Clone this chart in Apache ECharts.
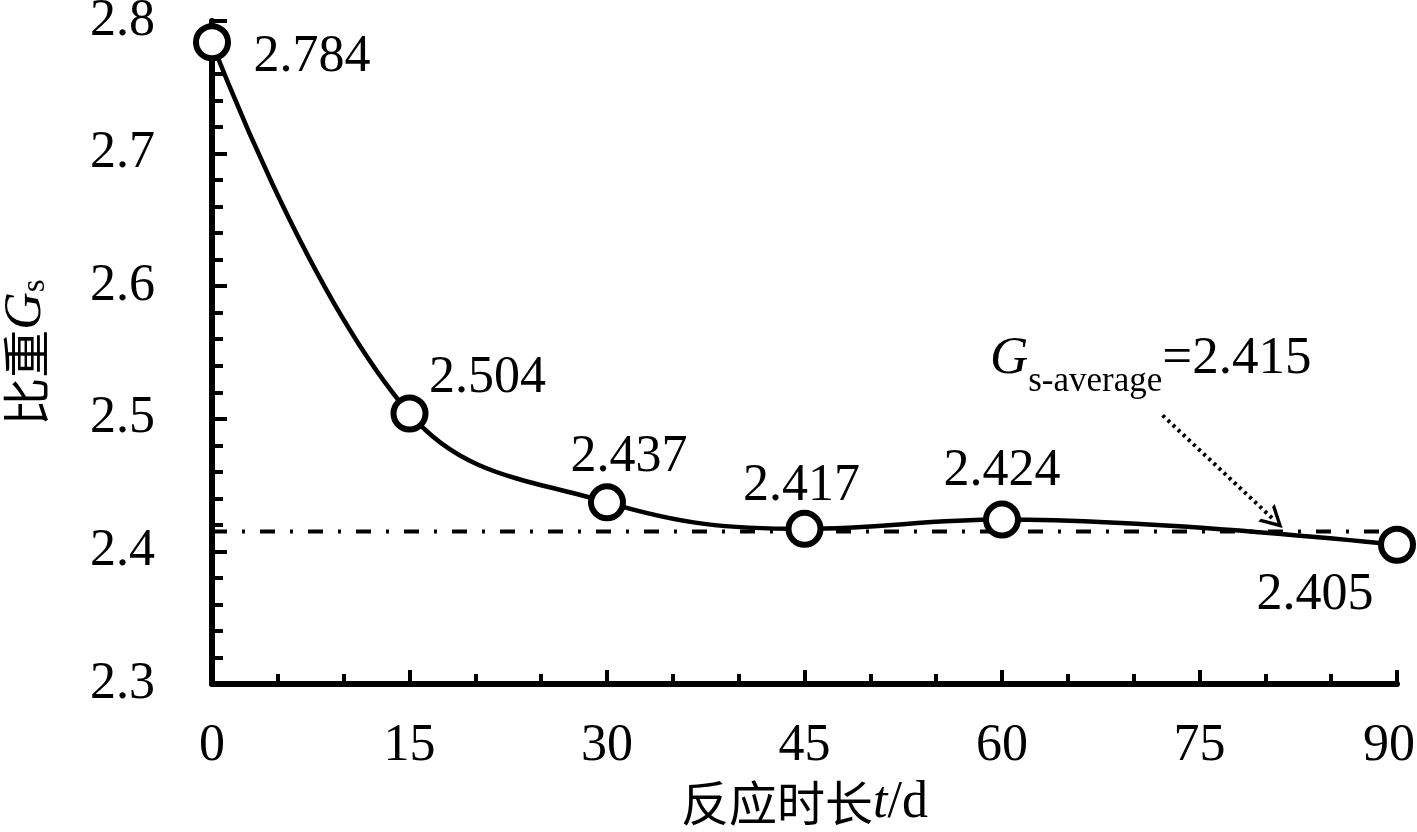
<!DOCTYPE html>
<html>
<head>
<meta charset="utf-8">
<script src="https://cdn.jsdelivr.net/npm/echarts@6/dist/echarts.min.js"></script>
<style>html,body{margin:0;padding:0;background:#fff;}#c{width:1417px;height:832px;}</style>
</head>
<body>
<div id="c"></div>
<script>
// ---- data ----
const days = [0, 15, 30, 45, 60, 90];
const gs = [2.784, 2.504, 2.437, 2.417, 2.424, 2.405];
const gsAverage = 2.415;
const xRange = [0, 90];
const yRange = [2.3, 2.8];
const arrowFrom = [72.2, 2.5026];
const arrowTo = [80.7, 2.4234];
const avgLabel = ['G', 's-average', '=2.415'];
const xName = ['反应时长', 't', '/d'];
const yName = ['比重', 'G', 's'];

// ---- styles ----
const FONT = "'Liberation Serif', 'Noto Sans CJK SC', serif";
const labelOffsets = [[100, 15], [78, -35], [22, -45], [-3, -43], [0, -48], [-82, 51]];

const chart = echarts.init(document.getElementById('c'), null, {renderer: 'canvas'});

const pointData = days.map((d, i) => ({
  value: [d, gs[i]],
  label: {offset: labelOffsets[i]}
}));

const option = {
  backgroundColor: '#fff',
  animation: false,
  grid: {left: 212, right: 20, top: 21, bottom: 148, containLabel: false, outerBoundsMode: 'none'},
  xAxis: {
    type: 'value', min: xRange[0], max: xRange[1], interval: 15,
    axisLine: {onZero: false, lineStyle: {color: '#000', width: 6}},
    axisTick: {inside: true, length: 14, lineStyle: {color: '#000', width: 4}},
    minorTick: {show: true, splitNumber: 3, length: 10, lineStyle: {color: '#000', width: 4}},
    splitLine: {show: false},
    axisLabel: {color: '#000', fontSize: 52, fontFamily: FONT, margin: 36,
      alignMaxLabel: 'right',
      formatter: v => v === xRange[1] ? `{last|${v}}` : String(v),
      rich: {last: {fontSize: 52, fontFamily: FONT, color: '#000', padding: [0, -18, 0, 0]}}
    },
    name: `{cn|${xName[0]}}{it|${xName[1]}}{rm|${xName[2]}}`,
    nameLocation: 'middle', nameGap: 92,
    nameTextStyle: {
      rich: {
        cn: {fontSize: 48, fontFamily: "'Noto Sans CJK SC'", color: '#000'},
        it: {fontSize: 52, fontFamily: FONT, fontStyle: 'italic', color: '#000'},
        rm: {fontSize: 52, fontFamily: FONT, color: '#000'}
      }
    }
  },
  yAxis: {
    type: 'value', min: yRange[0], max: yRange[1], interval: 0.1,
    axisLine: {show: true, lineStyle: {color: '#000', width: 6}},
    axisTick: {show: true, inside: true, length: 15, lineStyle: {color: '#000', width: 4}},
    minorTick: {show: true, splitNumber: 5, length: 11, lineStyle: {color: '#000', width: 4}},
    splitLine: {show: false},
    axisLabel: {color: '#000', fontSize: 52, fontFamily: FONT, margin: 57,
      formatter: v => v.toFixed(1)},
    name: `{cn|${yName[0]}}{it|${yName[1]}}{sub|${yName[2]}}`,
    nameLocation: 'middle', nameGap: 160, nameRotate: 90,
    nameTextStyle: {
      rich: {
        cn: {fontSize: 48, fontFamily: "'Noto Sans CJK SC'", color: '#000'},
        it: {fontSize: 52, fontFamily: FONT, fontStyle: 'italic', color: '#000'},
        sub: {fontSize: 33, fontFamily: FONT, color: '#000', verticalAlign: 'bottom'}
      }
    }
  },
  series: [
    {
      type: 'line',
      data: xRange.map(x => [x, gsAverage]),
      symbol: 'none',
      lineStyle: {color: '#000', width: 4, type: [15, 15, 3, 15]},
      z: 2,
      silent: true,
      markLine: {
        silent: true,
        symbol: ['none', 'path://M0,10 L5,0 L10,10 L8.4,10 L5,3.2 L1.6,10 Z'],
        symbolSize: [24, 22],
        lineStyle: {color: '#000', width: 4, type: [3, 4]},
        label: {show: false},
        data: [[{coord: arrowFrom}, {coord: arrowTo}]]
      },
      markPoint: {
        silent: true,
        symbol: 'circle', symbolSize: 0,
        data: [{coord: arrowFrom}],
        label: {
          show: true,
          position: 'top',
          distance: 30,
          offset: [-12, 0],
          formatter: `{it|${avgLabel[0]}}{sub|${avgLabel[1]}}{rm|${avgLabel[2]}}`,
          rich: {
            it: {fontSize: 53, fontFamily: FONT, fontStyle: 'italic', color: '#000'},
            sub: {fontSize: 35, fontFamily: FONT, color: '#000', verticalAlign: 'bottom', padding: [0, 0, -14, 0]},
            rm: {fontSize: 53, fontFamily: FONT, color: '#000'}
          }
        }
      }
    },
    {
      type: 'line',
      data: pointData,
      smooth: 0.4,
      clip: false,
      symbol: 'circle',
      symbolSize: 32,
      showAllSymbol: true,
      itemStyle: {color: '#fff', borderColor: '#000', borderWidth: 6},
      lineStyle: {color: '#000', width: 4.5},
      z: 3,
      label: {
        show: true,
        position: 'inside',
        formatter: p => p.value[1].toFixed(3),
        color: '#000', fontSize: 52, fontFamily: FONT
      }
    }
  ]
};
chart.setOption(option);
</script>
</body>
</html>
